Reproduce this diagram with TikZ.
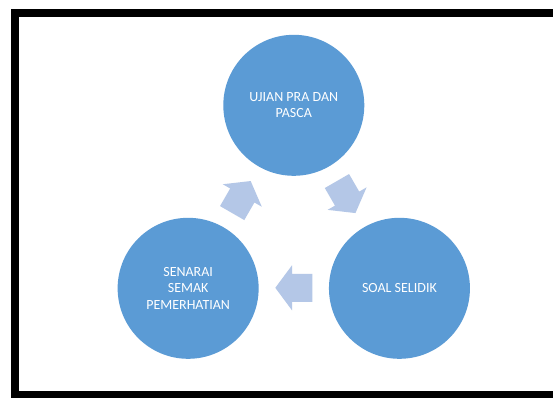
\documentclass[tikz,border=0pt]{standalone}
\usepackage{fontspec}
\setmainfont{Carlito}
\definecolor{cyclefill}{RGB}{91,155,213}
\definecolor{arrowfill}{RGB}{180,199,231}

\tikzset{
  stage/.style={circle, fill=cyclefill, minimum size=141, inner sep=0,
    text=white, align=center, font=\fontsize{14}{16.5}\selectfont},
  flow/.style={fill=arrowfill}
}

\begin{document}
\begin{tikzpicture}[x=1pt,y=1pt]
      \useasboundingbox (-293.8,227.3) rectangle (259.2,-169.7);
      \clip (-293.8,227.3) rectangle (259.2,-169.7);
      \fill[white] (-293.8,227.3) rectangle (259.2,-169.7);
      \draw[line width=8] (-278.8,214.3) rectangle (290,-167.7);
      % the three stages
      \node[stage] (ujian) at (90:122) {UJIAN PRA DAN\\PASCA};
      \node[stage] (soal) at (330:122) {SOAL SELIDIK};
      \node[stage] (senarai) at (210:122) {SENARAI\\SEMAK\\PEMERHATIAN};
      % block arrows between them
      \foreach \a in {30,270,150} {
        \fill[flow, shift={(\a:60.5)}, rotate=\a-90]
          (-18.5,14) -- (1.8,14) -- (1.8,22.5) -- (18.5,0)
          -- (1.8,-22.5) -- (1.8,-14) -- (-18.5,-14) -- cycle;
      }
    \end{tikzpicture}
\end{document}
